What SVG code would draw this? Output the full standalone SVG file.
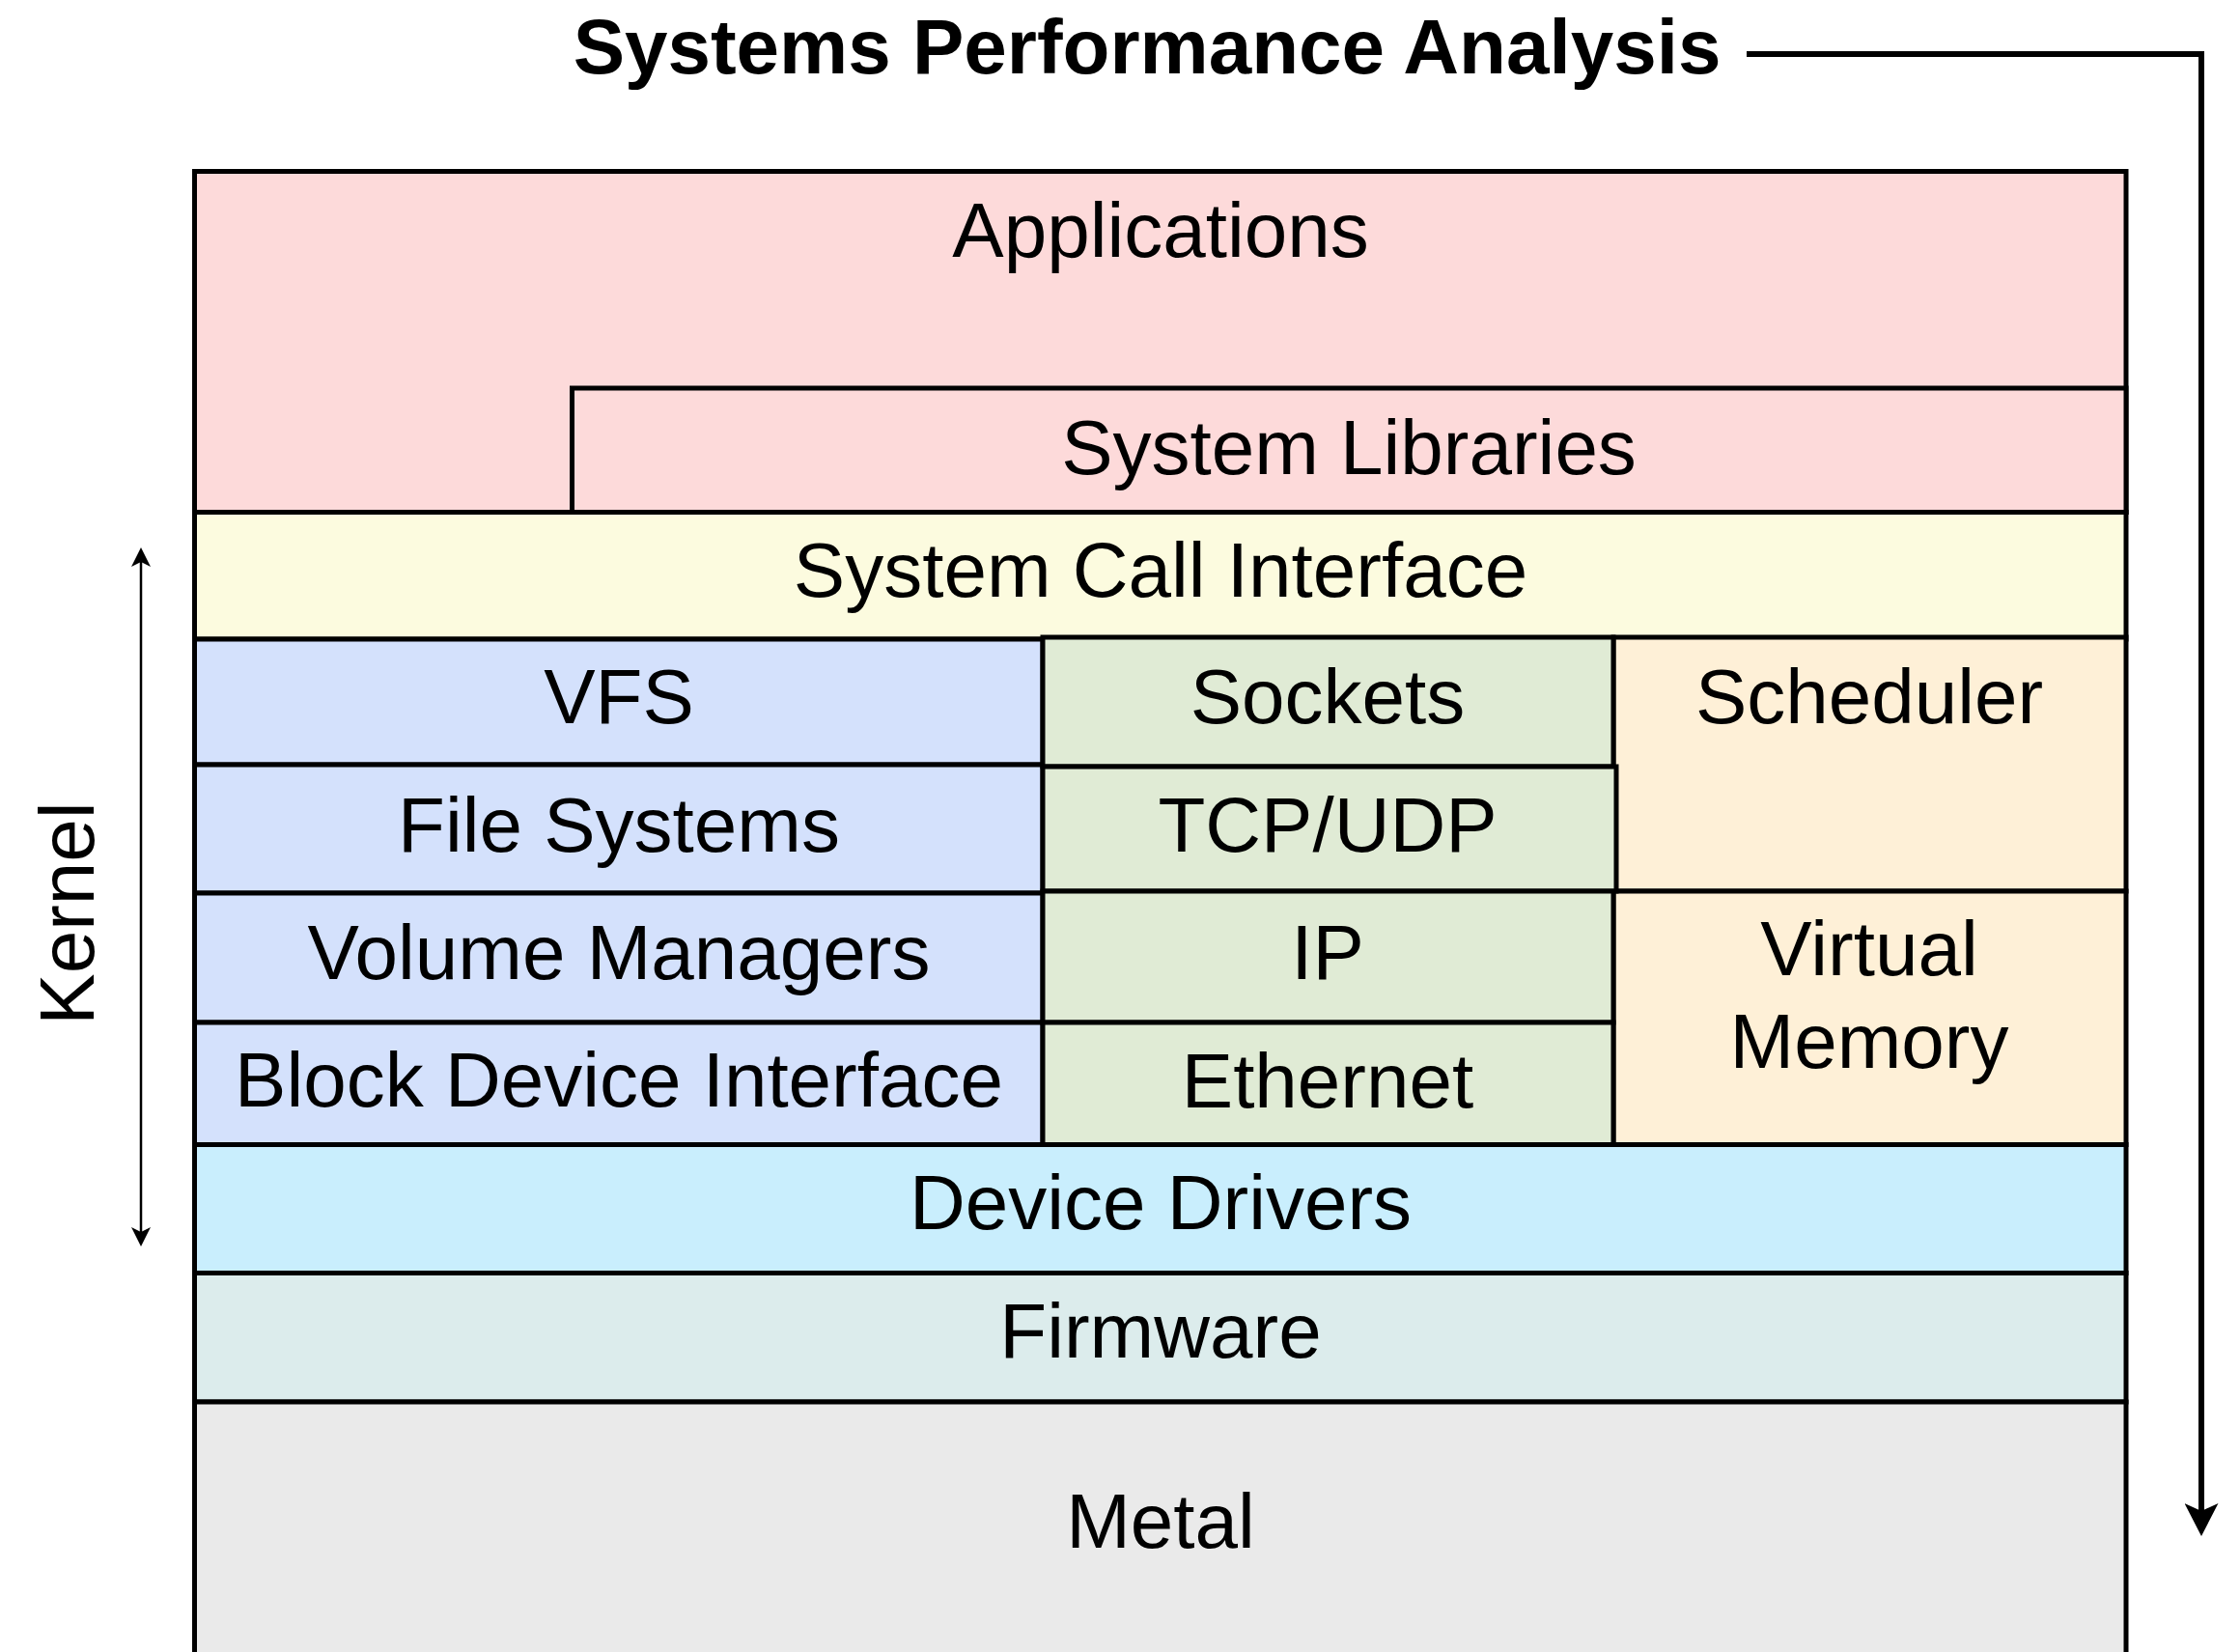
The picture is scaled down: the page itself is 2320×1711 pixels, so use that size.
<svg xmlns="http://www.w3.org/2000/svg" width="2320" height="1711" viewBox="0 0 2320 1711">
<style>
.box{stroke:#000;stroke-width:5}
.lbl{font-family:"Liberation Sans",Arial,Helvetica,sans-serif;font-size:80px;fill:#000;text-anchor:middle}
.title{font-family:"Liberation Sans",Arial,Helvetica,sans-serif;font-size:80px;font-weight:bold;fill:#000;text-anchor:middle}
.app{fill:#FDDADA}.sci{fill:#FCFBDF}.blue{fill:#D4E1FC}.green{fill:#E0EBD5}.orange{fill:#FEF0D7}.dd{fill:#C9EEFD}.fw{fill:#DCECEC}.metal{fill:#EAEAEA}
</style>
<defs>
<marker id="bigArrow" markerUnits="userSpaceOnUse" viewBox="0 0 34 35" markerWidth="34" markerHeight="35" refX="8" refY="17.5" orient="auto">
<path d="M0,0 L34,17.5 L0,35 L8,17.5 z" fill="#000"/>
</marker>
<marker id="smallArrow" markerUnits="userSpaceOnUse" viewBox="0 0 20 20" markerWidth="20" markerHeight="20" refX="5" refY="10" orient="auto-start-reverse">
<path d="M0,0 L20,10 L0,20 L5,10 z" fill="#000"/>
</marker>
</defs>
<rect width="2320" height="1711" fill="#fff"/>
<g id="title"><text class="title" x="1188" y="76">Systems Performance Analysis</text></g>
<g id="applications"><rect class="box app" x="201.5" y="177.5" width="2000.5" height="353"/><text class="lbl" x="1202" y="266">Applications</text></g>
<g id="system-libraries"><rect class="box app" x="592.5" y="402" width="1609.5" height="128.5"/><text class="lbl" x="1397" y="491">System Libraries</text></g>
<g id="system-call-interface"><rect class="box sci" x="201.5" y="530.5" width="2000.5" height="131.5"/><text class="lbl" x="1202" y="618">System Call Interface</text></g>
<g id="vfs"><rect class="box blue" x="201.5" y="662" width="878.5" height="130"/><text class="lbl" x="641" y="749">VFS</text></g>
<g id="file-systems"><rect class="box blue" x="201.5" y="792" width="878.5" height="133"/><text class="lbl" x="641" y="882">File Systems</text></g>
<g id="volume-managers"><rect class="box blue" x="201.5" y="925" width="878.5" height="134"/><text class="lbl" x="641" y="1014">Volume Managers</text></g>
<g id="block-device-interface"><rect class="box blue" x="201.5" y="1059" width="878.5" height="126.5"/><text class="lbl" x="641" y="1146">Block Device Interface</text></g>
<g id="scheduler"><rect class="box orange" x="1671" y="660" width="531" height="263"/><text class="lbl" x="1936" y="749">Scheduler</text></g>
<g id="virtual-memory"><rect class="box orange" x="1671" y="923" width="531" height="262.5"/><text class="lbl" x="1936" y="1010">Virtual</text><text class="lbl" x="1936" y="1106">Memory</text></g>
<g id="sockets"><rect class="box green" x="1080" y="660" width="591" height="134"/><text class="lbl" x="1375" y="749">Sockets</text></g>
<g id="tcp-udp"><rect class="box green" x="1080" y="794" width="594" height="129"/><text class="lbl" x="1375" y="882">TCP/UDP</text></g>
<g id="ip"><rect class="box green" x="1080" y="923" width="591" height="136"/><text class="lbl" x="1375" y="1014">IP</text></g>
<g id="ethernet"><rect class="box green" x="1080" y="1059" width="591" height="126.5"/><text class="lbl" x="1375" y="1147">Ethernet</text></g>
<g id="device-drivers"><rect class="box dd" x="201.5" y="1185.5" width="2000.5" height="133"/><text class="lbl" x="1202" y="1273">Device Drivers</text></g>
<g id="firmware"><rect class="box fw" x="201.5" y="1318.5" width="2000.5" height="133.5"/><text class="lbl" x="1202" y="1406">Firmware</text></g>
<g id="metal"><rect class="box metal" x="201.5" y="1452" width="2000.5" height="280"/><text class="lbl" x="1202" y="1603">Metal</text></g>
<g id="kernel"><text class="lbl" transform="translate(97,946) rotate(-90)">Kernel</text></g>
<g id="connectors" fill="none" stroke="#000">
<path d="M1809,56 H2280 V1565" stroke-width="6" marker-end="url(#bigArrow)"/>
<path d="M146,582 V1276" stroke-width="2.5" marker-start="url(#smallArrow)" marker-end="url(#smallArrow)"/>
</g>
</svg>
